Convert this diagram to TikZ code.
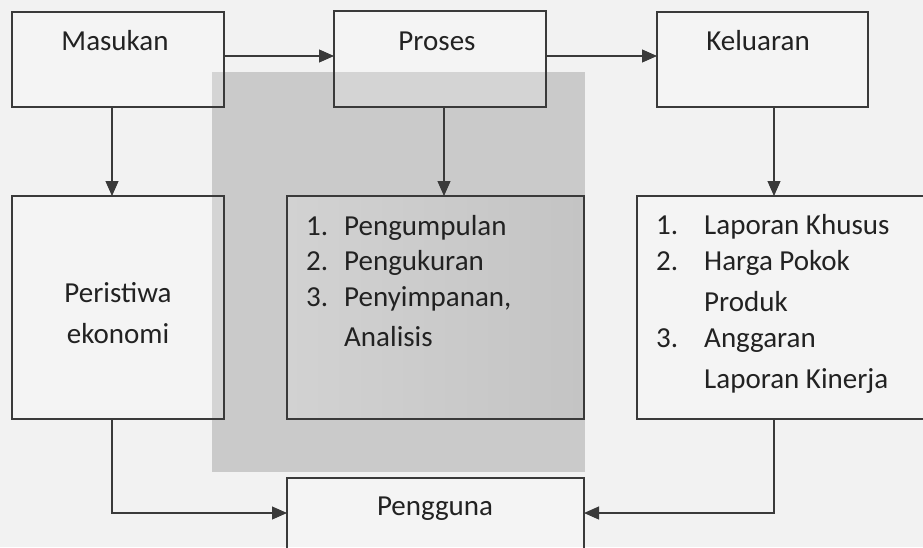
\documentclass[tikz,border=0pt]{standalone}
\usepackage{fontspec}
\setmainfont{Carlito}
\usetikzlibrary{arrows.meta}
\definecolor{bgc}{HTML}{F2F2F2}
\definecolor{wm}{HTML}{CACACA}
\definecolor{ln}{HTML}{3A3A3A}
\definecolor{tx}{HTML}{222222}
\tikzset{
  box/.style={draw=ln, line width=1.1pt, fill=white, fill opacity=0.2, draw opacity=1},
  graybox/.style={draw=ln, line width=1.1pt, left color=wm!85!white, right color=wm!97!black},
  lbl/.style={anchor=base, inner sep=0pt, text=tx, font=\fontsize{29}{36}\selectfont},
  lbll/.style={anchor=base west, inner sep=0pt, text=tx, font=\fontsize{29}{36}\selectfont},
  conn/.style={draw=ln, line width=1.1pt, -{Triangle[length=15pt,width=13pt]}}
}
\begin{document}
\begin{tikzpicture}[x=1pt,y=-1pt]
\useasboundingbox (0,0) rectangle (923,547);
\clip (0,0) rectangle (923,547);
\fill[bgc] (0,0) rectangle (923,547);
\fill[wm] (212,72) rectangle (585,472);
% boxes
\path[box] (12,12) rectangle (224,107);
\path[box] (334,11) rectangle (546,107);
\path[box] (657,12) rectangle (868,107);
\path[box] (12,196) rectangle (224,419);
\path[graybox] (287,196) rectangle (584,419);
\path[box] (637,196) rectangle (935,419);
\path[box] (287,478) rectangle (584,560);
% connection points
\coordinate (masE) at (224,56);
\coordinate (proW) at (334,56);
\coordinate (proE) at (546,56);
\coordinate (kelW) at (657,56);
\coordinate (masS) at (112,107);
\coordinate (perN) at (112,196);
\coordinate (proS) at (444,107);
\coordinate (midN) at (444,196);
\coordinate (kelS) at (774,107);
\coordinate (rgtN) at (774,196);
\coordinate (perS) at (112,419);
\coordinate (perC) at (112,513);
\coordinate (penW) at (287,513);
\coordinate (rgtS) at (774,419);
\coordinate (rgtC) at (774,513);
\coordinate (penE) at (584,513);
% connectors
\draw[conn] (masE) -- (proW);
\draw[conn] (proE) -- (kelW);
\draw[conn] (masS) -- (perN);
\draw[conn] (proS) -- (midN);
\draw[conn] (kelS) -- (rgtN);
\draw[conn] (perS) -- (perC) -- (penW);
\draw[conn] (rgtS) -- (rgtC) -- (penE);
% texts
\node[lbl] (tmas) at (115,50) {Masukan};
\node[lbl] (tpro) at (437,50) {Proses};
\node[lbl] (tkel) at (758,50) {Keluaran};
\node[lbl] (tper1) at (118,302) {Peristiwa};
\node[lbl] (tper2) at (118,343) {ekonomi};
\node[lbll] (m1n) at (306,235) {1.};
\node[lbll] (m1) at (344,235) {Pengumpulan};
\node[lbll] (m2n) at (306,270) {2.};
\node[lbll] (m2) at (344,270) {Pengukuran};
\node[lbll] (m3n) at (306,306) {3.};
\node[lbll] (m3) at (344,306) {Penyimpanan,};
\node[lbll] (m4) at (344,346) {Analisis};
\node[lbll] (r1n) at (656,234) {1.};
\node[lbll] (r1) at (704,234) {Laporan Khusus};
\node[lbll] (r2n) at (656,270) {2.};
\node[lbll] (r2) at (704,270) {Harga Pokok};
\node[lbll] (r3) at (704,311) {Produk};
\node[lbll] (r4n) at (656,347) {3.};
\node[lbll] (r4) at (704,347) {Anggaran};
\node[lbll] (r5) at (704,388) {Laporan Kinerja};
\node[lbl] (tpen) at (435,515) {Pengguna};
\end{tikzpicture}
\end{document}
